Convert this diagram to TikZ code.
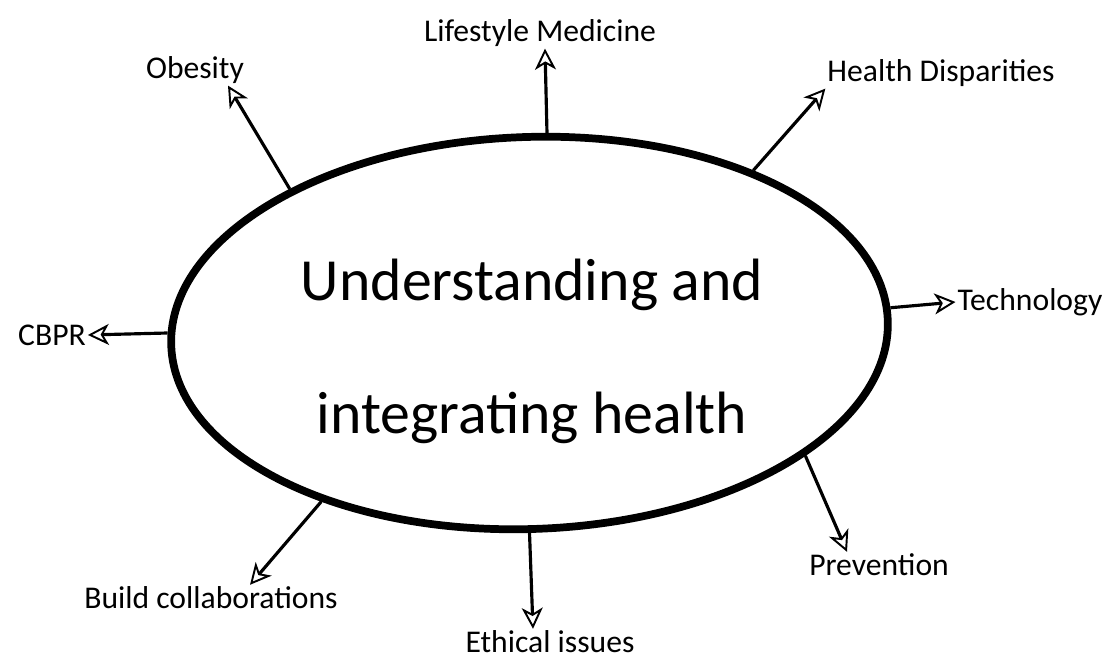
\documentclass[tikz,border=0pt]{standalone}
\usepackage{fontspec}
\setmainfont{Carlito}
\usetikzlibrary{
	arrows.meta,
	positioning,
	shapes.geometric,
	calc,
}
\tikzset{every picture/.style={/utils/exec={\rmfamily}}}

\begin{document}
\begin{tikzpicture} [
            every node/.style={align=center},
            hub/.style={draw,ellipse,line width=4.4pt,inner sep=0pt,minimum width=14.34cm,minimum height=7.84cm,rotate=2},
            title/.style={font=\fontsize{34}{76}\selectfont,execute at begin node=\setlength{\baselineskip}{76pt}},
            topic/.style={font=\fontsize{18}{21}\selectfont,inner sep=1pt},
            link/.style={-{Stealth[open,length=0.42cm,width=0.42cm,inset=0.12cm,line width=1.1pt]},line width=1.8pt}
        ]
        \useasboundingbox (0,0) rectangle (22.1,13.22);

        \node at (10.59,6.56) [hub] (core) {};
        \node at (10.64,6.19) [title] (heading) {
            Understanding and \\
            integrating health
        };

        \node at (3.90,11.82) [topic] (obesity) {Obesity};
        \node at (10.80,12.56) [topic] (lifestyle) {Lifestyle Medicine};
        \node at (18.82,11.76) [topic] (disparities) {Health Disparities};
        \node at (20.60,7.18) [topic] (technology) {Technology};
        \node at (1.04,6.52) [topic] (cbpr) {CBPR};
        \node at (4.22,1.26) [topic] (collab) {Build collaborations};
        \node at (11.00,0.38) [topic] (ethical) {Ethical issues};
        \node at (17.58,1.92) [topic] (prevention) {Prevention};

        \path[link,draw] (core.147) -- ([xshift=0.66cm]obesity.south);
        \path[link,draw] (core.83) -- ([xshift=0.1cm]lifestyle.south);
        \path[link,draw] (core.34) -- (disparities.south west);
        \path[link,draw] (core.2) -- (technology.west);
        \path[link,draw] (core.178) -- (cbpr.east);
        \path[link,draw] (core.217) -- ([xshift=0.78cm]collab.north);
        \path[link,draw] (core.268) -- ([xshift=-0.34cm]ethical.north);
        \path[link,draw] (core.-26) -- ([xshift=-0.64cm]prevention.north);
    \end{tikzpicture}
\end{document}
